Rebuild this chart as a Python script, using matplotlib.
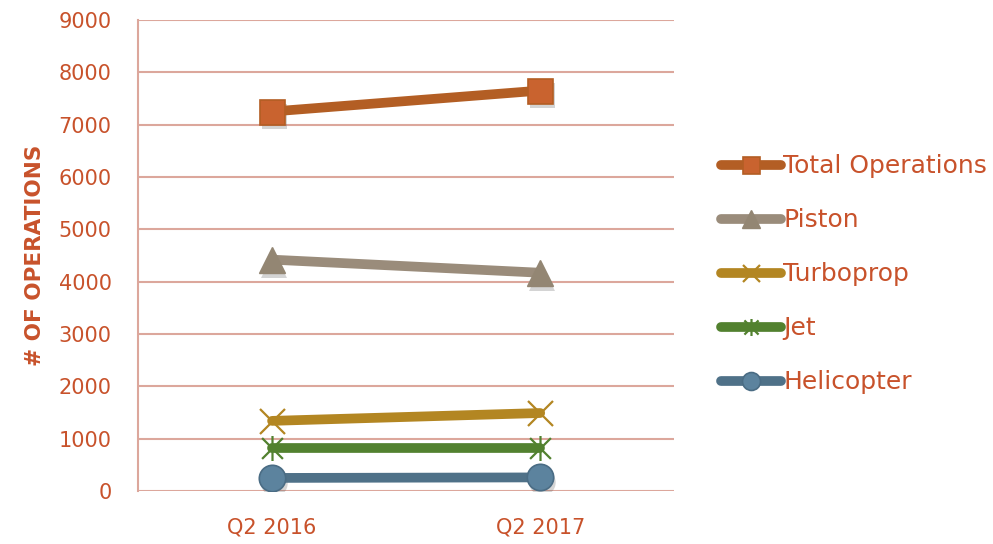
import matplotlib.pyplot as plt
from matplotlib.path import Path
from matplotlib.transforms import ScaledTranslation

quarters = ['Q2 2016', 'Q2 2017']
total_ops = [7250, 7650]
piston = [4420, 4170]
turboprop = [1340, 1490]
jet = [820, 820]
helicopter = [250, 260]

text_color = '#C8522B'
grid_color = '#DCA79C'

plt.rcParams['font.family'] = ['DejaVu Sans']

# asterisk marker: an X with a vertical bar through it
star = Path([(-1, -1), (1, 1), (-1, 1), (1, -1), (0, -1.2), (0, 1.2)],
            [Path.MOVETO, Path.LINETO, Path.MOVETO, Path.LINETO, Path.MOVETO, Path.LINETO])

fig = plt.figure(figsize=(9.93, 5.44), dpi=100)
ax = fig.add_axes([0.139, 0.0974, 0.54, 0.866])

series = [
    ('Total Operations', total_ops, '#B35E24', 's', '#C9632F', '#B35E24', 18, 1.2),
    ('Piston', piston, '#9A8C7B', '^', '#938673', '#938673', 19, 1.0),
    ('Turboprop', turboprop, '#B38622', 'x', '#B38622', '#B38622', 18, 1.6),
    ('Jet', jet, '#52812F', star, '#52812F', '#52812F', 18, 1.6),
    ('Helicopter', helicopter, '#4F7188', 'o', '#5C839E', '#4A6C84', 19, 1.2),
]

# soft drop shadow under the solid markers
shift = ax.transData + ScaledTranslation(1.5 / 72, -3.5 / 72, fig.dpi_scale_trans)

x = range(len(quarters))
for name, vals, col, mk, mfc, mec, ms, mew in series:
    if isinstance(mk, str) and mk in ('s', '^', 'o'):
        ax.plot(x, vals, ls='none', marker=mk, markersize=ms, color='#555555',
                alpha=0.25, mew=0, transform=shift, zorder=1.5)
    ax.plot(x, vals, color=col, lw=7, marker=mk, markersize=ms,
            markerfacecolor=mfc, markeredgecolor=mec, markeredgewidth=mew,
            solid_capstyle='round', label=name, zorder=2)

ax.set_xlim(-0.5, 1.5)
ax.set_ylim(0, 9000)
ax.set_yticks(range(0, 9001, 1000))
ax.set_xticks(list(x))
ax.set_xticklabels(quarters)
ax.grid(axis='y', color=grid_color, lw=1.5)
ax.set_axisbelow(True)
for s in ['top', 'right', 'bottom']:
    ax.spines[s].set_visible(False)
ax.spines['left'].set_color(grid_color)
ax.spines['left'].set_linewidth(1.5)
ax.tick_params(axis='both', length=0, labelsize=15, labelcolor=text_color)
ax.tick_params(axis='y', pad=19)
ax.tick_params(axis='x', pad=19)
ax.set_ylabel('# OF OPERATIONS', fontsize=15.5, fontweight='bold', color=text_color, labelpad=10)

leg = ax.legend(loc='center left', bbox_to_anchor=(1.045, 0.46), frameon=False,
                fontsize=18, labelcolor=text_color, handlelength=2.4,
                handletextpad=0.1, labelspacing=1.2, markerscale=0.68)

fig.savefig('out.png', dpi=100)
